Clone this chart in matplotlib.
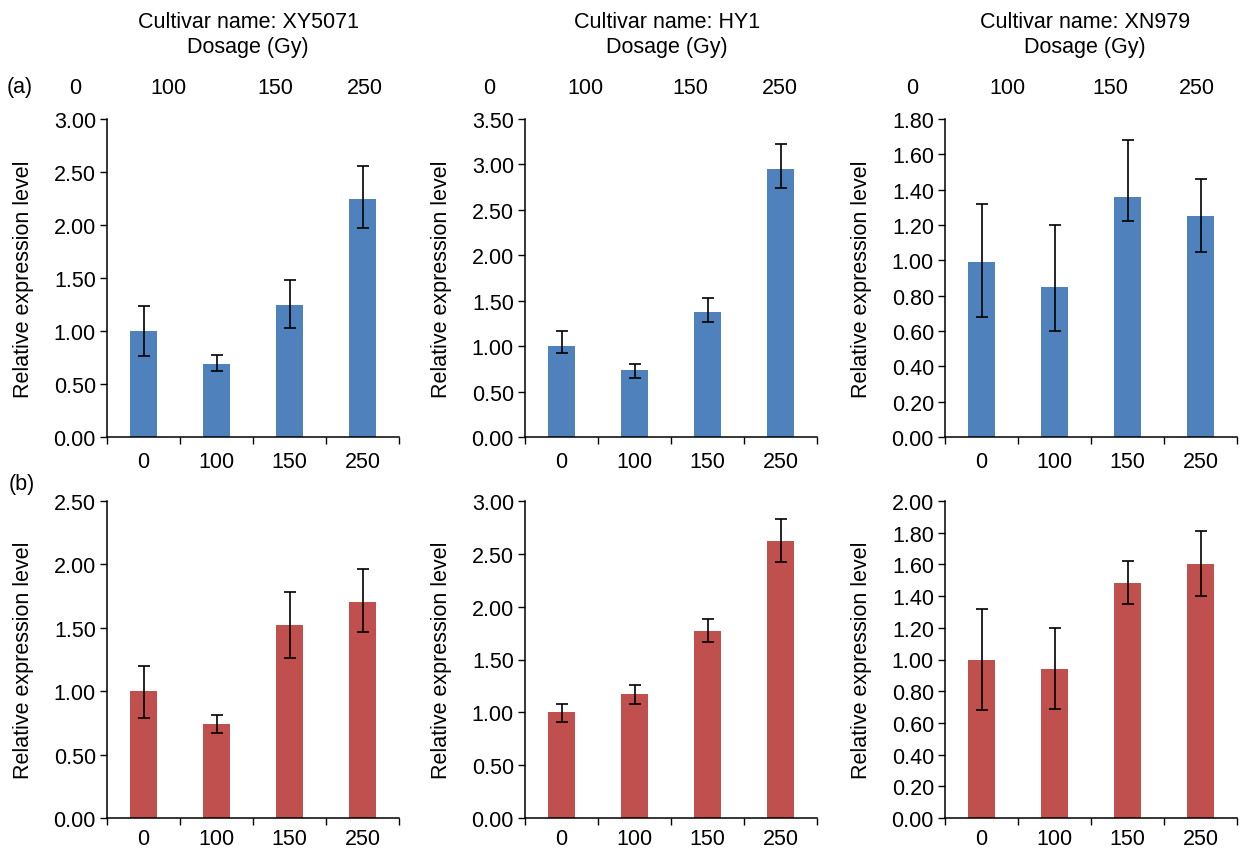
import matplotlib
matplotlib.use('Agg')
import matplotlib.pyplot as plt
import numpy as np

plt.rcParams['font.family'] = ['Liberation Sans', 'DejaVu Sans']

# Data
dosages = ['0', '100', '150', '250']
cultivars = ['XY5071', 'HY1', 'XN979']

# row (a) - blue
a_xy = [1.00, 0.69, 1.25, 2.25]
a_xy_lo = [0.24, 0.07, 0.22, 0.28]
a_xy_hi = [0.24, 0.08, 0.23, 0.31]
a_hy = [1.00, 0.74, 1.38, 2.95]
a_hy_lo = [0.08, 0.09, 0.11, 0.21]
a_hy_hi = [0.17, 0.06, 0.15, 0.28]
a_xn = [0.99, 0.85, 1.36, 1.25]
a_xn_lo = [0.31, 0.25, 0.14, 0.20]
a_xn_hi = [0.33, 0.35, 0.32, 0.21]

# row (b) - red
b_xy = [1.00, 0.74, 1.52, 1.70]
b_xy_lo = [0.21, 0.07, 0.26, 0.23]
b_xy_hi = [0.20, 0.07, 0.26, 0.26]
b_hy = [1.00, 1.17, 1.77, 2.62]
b_hy_lo = [0.09, 0.09, 0.10, 0.20]
b_hy_hi = [0.08, 0.09, 0.11, 0.21]
b_xn = [1.00, 0.94, 1.48, 1.60]
b_xn_lo = [0.32, 0.25, 0.13, 0.20]
b_xn_hi = [0.32, 0.26, 0.14, 0.21]

# y axis ranges (max, step)
a_ylims = [(3.0, 0.5), (3.5, 0.5), (1.8, 0.2)]
b_ylims = [(2.5, 0.5), (3.0, 0.5), (2.0, 0.2)]

BLUE = '#4F81BD'
RED = '#C0504D'
W, H = 1241, 853
FS = 15.5

fig = plt.figure(figsize=(W / 100, H / 100), dpi=100)

lefts = [107, 525, 945]
width = 292
rows = [(120, 438), (502, 819)]
xpads = [10, 7]


def draw_panel(ax, vals, lo, hi, ylim, color, xpad):
    x = np.arange(len(vals))
    ax.bar(x, vals, width=0.38, color=color, zorder=2)
    ax.errorbar(x, vals, yerr=[lo, hi], fmt='none', ecolor='black',
                elinewidth=1.2, capsize=4, capthick=1.2, zorder=3)
    ymax, step = ylim
    ticks = np.arange(0, ymax + step / 2, step)
    ax.set_ylim(0, ymax)
    ax.set_yticks(ticks)
    ax.set_yticklabels([f'{v:.2f}' for v in ticks])
    ax.set_xlim(-0.5, len(vals) - 0.5)
    ax.set_xticks(x)
    ax.set_xticklabels(dosages)
    ax.set_xticks(np.arange(-0.5, len(vals)), minor=True)
    ax.tick_params(axis='x', which='major', length=0, pad=xpad, labelsize=FS)
    ax.tick_params(axis='x', which='minor', length=5, width=1, direction='out')
    ax.tick_params(axis='y', length=5, width=1, labelsize=FS, pad=3)
    for s in ['top', 'right']:
        ax.spines[s].set_visible(False)
    for s in ['left', 'bottom']:
        ax.spines[s].set_linewidth(1.1)
    ax.set_ylabel('Relative expression level', fontsize=FS, labelpad=14)


row_a = [(a_xy, a_xy_lo, a_xy_hi), (a_hy, a_hy_lo, a_hy_hi), (a_xn, a_xn_lo, a_xn_hi)]
row_b = [(b_xy, b_xy_lo, b_xy_hi), (b_hy, b_hy_lo, b_hy_hi), (b_xn, b_xn_lo, b_xn_hi)]

for r, (data, ylims, color) in enumerate([(row_a, a_ylims, BLUE), (row_b, b_ylims, RED)]):
    top, bottom = rows[r]
    for c in range(3):
        ax = fig.add_axes([lefts[c] / W, (H - bottom) / H, width / W, (bottom - top) / H])
        vals, lo, hi = data[c]
        draw_panel(ax, vals, lo, hi, ylims[c], color, xpads[r])

# headers
title_x = [248, 667, 1085]
top_label_x = [[75, 168, 275, 365], [489, 585, 690, 780], [912, 1007, 1110, 1197]]
for c in range(3):
    fig.text(title_x[c] / W, 1 - 22 / H, f'Cultivar name: {cultivars[c]}',
             ha='center', va='center', fontsize=FS)
    fig.text(title_x[c] / W, 1 - 47 / H, 'Dosage (Gy)', ha='center', va='center', fontsize=FS)
    for d, xp in zip(dosages, top_label_x[c]):
        fig.text(xp / W, 1 - 88 / H, d, ha='center', va='center', fontsize=FS)

fig.text(20 / W, 1 - 88 / H, '(a)', ha='center', va='center', fontsize=FS)
fig.text(22 / W, 1 - 485 / H, '(b)', ha='center', va='center', fontsize=FS)

plt.savefig('out.png', dpi=100)
